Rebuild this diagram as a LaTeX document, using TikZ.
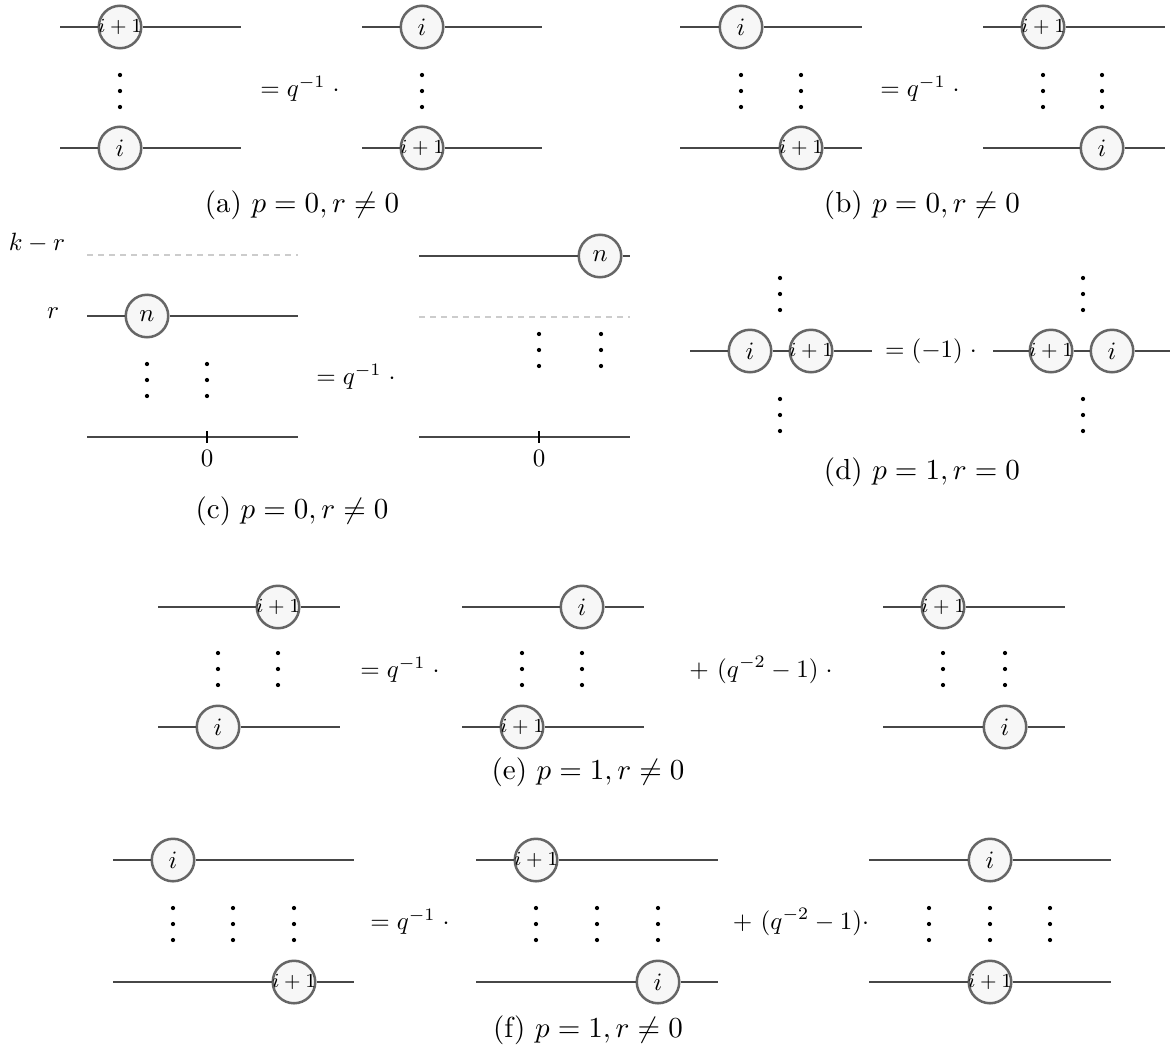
\documentclass[tikz,border=0pt]{standalone}
\usepackage{graphicx}
\tikzset{
  wire/.style={draw=black!72, line width=0.5pt},
  ghost/.style={draw=black!20, line width=0.45pt, dash pattern=on 2.2pt off 2.2pt},
  bead/.style={circle, draw=black!60, line width=1pt, fill=black!3, minimum size=17pt, inner sep=0pt},
  txt/.style={inner sep=0pt},
  capt/.style={inner sep=0pt},
  tickmark/.style={draw=black, line width=0.45pt},
  tridots/.pic={\fill[black] (0,-16) circle (0.85pt) (0,0) circle (0.85pt) (0,16) circle (0.85pt);},
}
\newcommand{\lbI}{$i$}
\newcommand{\lbIp}{\footnotesize$i+1$}
\newcommand{\lbN}{$n$}
\newcommand{\capscale}[1]{\scalebox{1.16}{#1}}
\newcommand{\beadat}[3]{%
  \node[bead, label={[inner sep=0pt]center:#3}] (#1) at (#2) {};}
\newcommand{\strand}[6]{%
  \coordinate (#1s) at (#2,#4);
  \coordinate (#1e) at (#3,#4);
  \beadat{#1b}{#5,#4}{#6}
  \draw[wire] (#1s) -- (#1b) -- (#1e);}
\newcommand{\bare}[5]{%
  \coordinate (#1s) at (#2,#4);
  \coordinate (#1e) at (#3,#4);
  \draw[#5] (#1s) -- (#1e);}
\newcommand{\tickat}[4]{%
  \coordinate (#1a) at (#2,#3);
  \coordinate (#1b) at (#2,#4);
  \draw[tickmark] (#1a) -- (#1b);}
\begin{document}
\begin{tikzpicture}[x=0.4pt,y=-0.4pt]
\fill[white] (0,0) rectangle (1170,1053);
\path[use as bounding box] (0,0) rectangle (1170,1053);

% ---------- (a)
\strand{aLt}{60}{241}{27}{120}{\lbIp}
\strand{aLb}{60}{241}{148}{120}{\lbI}
\pic (aLd) at (120,91) {tridots};
\node[txt] (aEq) at (300,89) {$= q^{-1}\;\cdot$};
\strand{aRt}{362}{542}{27}{422}{\lbI}
\strand{aRb}{362}{542}{148}{422}{\lbIp}
\pic (aRd) at (422,91) {tridots};
\node[capt] (aCap) at (302,205) {\capscale{(a) $p=0, r\neq 0$}};

% ---------- (b)
\strand{bLt}{680}{862}{27}{741}{\lbI}
\strand{bLb}{680}{862}{148}{801}{\lbIp}
\pic (bLd1) at (741,91) {tridots};
\pic (bLd2) at (801,91) {tridots};
\node[txt] (bEq) at (920,89) {$= q^{-1}\;\cdot$};
\strand{bRt}{983}{1165}{27}{1043}{\lbIp}
\strand{bRb}{983}{1165}{148}{1102}{\lbI}
\pic (bRd1) at (1043,91) {tridots};
\pic (bRd2) at (1102,91) {tridots};
\node[capt] (bCap) at (922,205) {\capscale{(b) $p=0, r\neq 0$}};

% ---------- (c)
\node[txt] (cKr) at (37,243) {$k-r$};
\node[txt] (cR) at (53,313) {$r$};
\bare{cLd}{87}{298}{255}{ghost}
\strand{cLt}{87}{298}{316}{147}{\lbN}
\pic (cLd1) at (147,380) {tridots};
\pic (cLd2) at (207,380) {tridots};
\bare{cLb}{87}{298}{437}{wire}
\tickat{cLt}{207}{431}{443}
\node[txt] (cL0) at (207,458) {$0$};
\node[txt] (cEq) at (356,377) {$= q^{-1}\;\cdot$};
\strand{cRt}{419}{630}{256}{600}{\lbN}
\bare{cRd}{419}{630}{317}{ghost}
\pic (cRd1) at (539,350) {tridots};
\pic (cRd2) at (601,350) {tridots};
\bare{cRb}{419}{630}{437}{wire}
\tickat{cRt}{539}{431}{443}
\node[txt] (cR0) at (539,458) {$0$};
\node[capt] (cCap) at (292,511) {\capscale{(c) $p=0, r\neq 0$}};

% ---------- (d)
\coordinate (dLs) at (690,351);
\coordinate (dLe) at (872,351);
\beadat{dL1}{750,351}{\lbI}
\beadat{dL2}{811,351}{\lbIp}
\draw[wire] (dLs) -- (dL1) -- (dL2) -- (dLe);
\pic (dLu) at (780,294) {tridots};
\pic (dLl) at (780,415) {tridots};
\node[txt] (dEq) at (931,351) {$= (-1)\;\cdot$};
\coordinate (dRs) at (993,351);
\coordinate (dRe) at (1170,351);
\beadat{dR1}{1051,351}{\lbIp}
\beadat{dR2}{1112,351}{\lbI}
\draw[wire] (dRs) -- (dR1) -- (dR2) -- (dRe);
\pic (dRu) at (1083,294) {tridots};
\pic (dRl) at (1083,415) {tridots};
\node[capt] (dCap) at (922,472) {\capscale{(d) $p=1, r=0$}};

% ---------- (e)
\strand{eLt}{158}{340}{607}{278}{\lbIp}
\strand{eLb}{158}{340}{727}{218}{\lbI}
\pic (eLd1) at (218,669) {tridots};
\pic (eLd2) at (278,669) {tridots};
\node[txt] (eEq) at (400,670) {$= q^{-1}\;\cdot$};
\strand{eMt}{462}{644}{607}{582}{\lbI}
\strand{eMb}{462}{644}{727}{522}{\lbIp}
\pic (eMd1) at (522,669) {tridots};
\pic (eMd2) at (582,669) {tridots};
\node[txt] (ePl) at (761,670) {$+\ (q^{-2}-1)\;\cdot$};
\strand{eRt}{883}{1065}{607}{943}{\lbIp}
\strand{eRb}{883}{1065}{727}{1005}{\lbI}
\pic (eRd1) at (943,669) {tridots};
\pic (eRd2) at (1005,669) {tridots};
\node[capt] (eCap) at (588,772) {\capscale{(e) $p=1, r\neq 0$}};

% ---------- (f)
\strand{fLt}{113}{354}{860}{173}{\lbI}
\strand{fLb}{113}{354}{982}{294}{\lbIp}
\pic (fLd1) at (173,924) {tridots};
\pic (fLd2) at (233,924) {tridots};
\pic (fLd3) at (294,924) {tridots};
\node[txt] (fEq) at (410,922) {$= q^{-1}\;\cdot$};
\strand{fMt}{476}{718}{860}{536}{\lbIp}
\strand{fMb}{476}{718}{982}{658}{\lbI}
\pic (fMd1) at (536,924) {tridots};
\pic (fMd2) at (597,924) {tridots};
\pic (fMd3) at (658,924) {tridots};
\node[txt] (fPl) at (801,922) {$+\ (q^{-2}-1)\cdot$};
\strand{fRt}{869}{1111}{860}{990}{\lbI}
\strand{fRb}{869}{1111}{982}{990}{\lbIp}
\pic (fRd1) at (929,924) {tridots};
\pic (fRd2) at (990,924) {tridots};
\pic (fRd3) at (1050,924) {tridots};
\node[capt] (fCap) at (588,1030) {\capscale{(f) $p=1, r\neq 0$}};
\end{tikzpicture}
\end{document}
